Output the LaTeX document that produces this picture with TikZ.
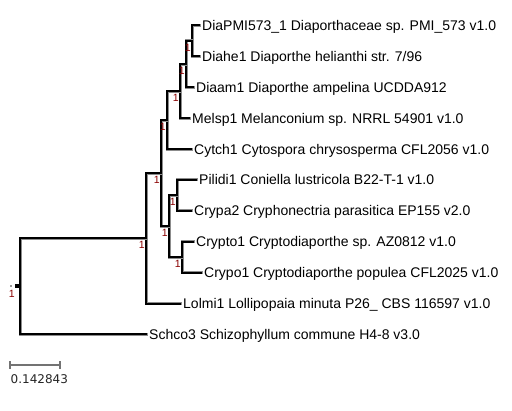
\documentclass[tikz,border=0pt]{standalone}
\usepackage{fontspec}
\setmainfont{Liberation Sans}
\newfontfamily\djv{DejaVu Sans}
\definecolor{suppred}{HTML}{8B0000}
\tikzset{
  branch/.style={draw=black, line width=2pt, line join=miter, line cap=rect,
    preaction={draw=black!45, line width=3pt, line cap=rect, line join=miter}},
  leaf/.style={anchor=west, inner xsep=3pt, inner ysep=0pt, text height=10pt, text depth=0pt,
    font=\fontsize{14}{16}\selectfont},
  supp/.style={anchor=base east, inner sep=0pt, text=suppred, font=\fontsize{10.5}{12}\selectfont},
  scalebar/.style={draw=black!55, line width=2pt}
}
\begin{document}
\begin{tikzpicture}[x=1pt,y=-1pt]
\useasboundingbox[fill=white] (0,0) rectangle (512,411);
% leaves
\node[leaf] (dia)  at (199,25.5)  {DiaPMI573\_1 Diaporthaceae sp. PMI\_573 v1.0};
\node[leaf] (diahe) at (199,56.4) {Diahe1 Diaporthe helianthi str. 7/96};
\node[leaf] (diaam) at (193,87.3) {Diaam1 Diaporthe ampelina UCDDA912};
\node[leaf] (mel)  at (189,118.2) {Melsp1 Melanconium sp. NRRL 54901 v1.0};
\node[leaf] (cyt)  at (191,149.1) {Cytch1 Cytospora chrysosperma CFL2056 v1.0};
\node[leaf] (pil)  at (196,180)   {Pilidi1 Coniella lustricola B22-T-1 v1.0};
\node[leaf] (cpa)  at (191,210.9) {Crypa2 Cryphonectria parasitica EP155 v2.0};
\node[leaf] (cto)  at (193,241.8) {Crypto1 Cryptodiaporthe sp. AZ0812 v1.0};
\node[leaf] (cpo)  at (201,272.7) {Crypo1 Cryptodiaporthe populea CFL2025 v1.0};
\node[leaf] (lol)  at (180,303.6) {Lolmi1 Lollipopaia minuta P26\_ CBS 116597 v1.0};
\node[leaf] (sch)  at (146,334.5) {Schco3 Schizophyllum commune H4-8 v3.0};
% internal nodes
\coordinate (A) at (192,41);
\coordinate (B) at (186,64.1);
\coordinate (C) at (180,91.2);
\coordinate (D) at (167,120.1);
\coordinate (E) at (177,195.5);
\coordinate (F) at (182,257.3);
\coordinate (G) at (169,226.4);
\coordinate (H) at (161,173.2);
\coordinate (I) at (146,238.4);
\coordinate (R) at (20,286.5);
% branches
\draw[branch] (dia.west) -- (dia.west -| A) -- (diahe.west -| A) -- (diahe.west);
\draw[branch] (A) -- (A -| B) -- (diaam.west -| B) -- (diaam.west);
\draw[branch] (B) -- (B -| C) -- (mel.west -| C) -- (mel.west);
\draw[branch] (C) -- (C -| D) -- (cyt.west -| D) -- (cyt.west);
\draw[branch] (pil.west) -- (pil.west -| E) -- (cpa.west -| E) -- (cpa.west);
\draw[branch] (cto.west) -- (cto.west -| F) -- (cpo.west -| F) -- (cpo.west);
\draw[branch] (E) -- (E -| G) -- (F -| G) -- (F);
\draw[branch] (D) -- (D -| H) -- (G -| H) -- (G);
\draw[branch] (H) -- (H -| I) -- (lol.west -| I) -- (lol.west);
\draw[branch] (I) -- (I -| R) -- (sch.west -| R) -- (sch.west);
% root marks
\fill[black] (15,284.5) rectangle (19,288.5);
\fill[black!40] (10,285.5) rectangle (12,287.5);
% support values
\node[supp] (sA) at ([xshift=-1pt,yshift=-10.5pt]A) {1};
\node[supp] (sB) at ([xshift=-1pt,yshift=-10.5pt]B) {1};
\node[supp] (sC) at ([xshift=-1pt,yshift=-10.5pt]C) {1};
\node[supp] (sD) at ([xshift=-1pt,yshift=-10.5pt]D) {1};
\node[supp] (sE) at ([xshift=-1pt,yshift=-10.5pt]E) {1};
\node[supp] (sF) at ([xshift=-1pt,yshift=-10.5pt]F) {1};
\node[supp] (sG) at ([xshift=-1pt,yshift=-10.5pt]G) {1};
\node[supp] (sH) at ([xshift=-1pt,yshift=-10.5pt]H) {1};
\node[supp] (sI) at ([xshift=-1pt,yshift=-10.5pt]I) {1};
\node[supp] (sR) at (15,298) {1};
% scale bar
\coordinate (s1) at (10,365);
\coordinate (s2) at (60,365);
\draw[scalebar] (s1) -- (s2);
\draw[scalebar] ([yshift=-4pt]s1) -- ([yshift=4pt]s1);
\draw[scalebar] ([yshift=-4pt]s2) -- ([yshift=4pt]s2);
\node[anchor=base west, inner sep=0pt, text=black!85, font=\djv\fontsize{12}{14}\selectfont] (scl) at (10.5,384) {0.142843};
\end{tikzpicture}
\end{document}
